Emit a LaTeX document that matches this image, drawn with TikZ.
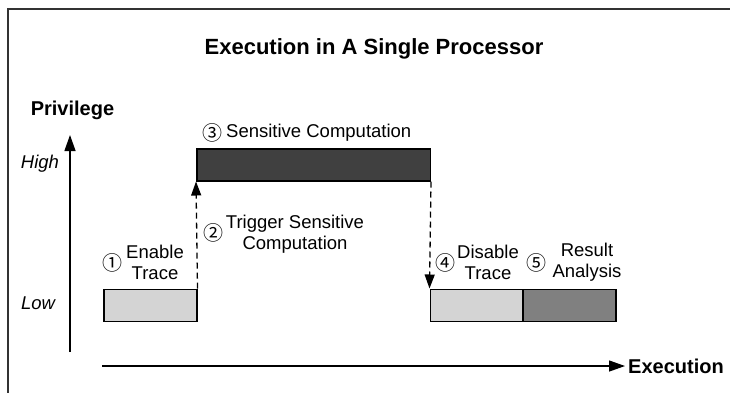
\documentclass[tikz,border=0pt]{standalone}
\usepackage{fontspec}
\setmainfont{Liberation Sans}
\newfontfamily\circfont{Noto Sans CJK SC}
\usetikzlibrary{arrows.meta}

\definecolor{lightbar}{gray}{0.83}
\definecolor{darkbar}{gray}{0.25}
\definecolor{midbar}{gray}{0.5}

\begin{document}
\begin{tikzpicture}[x=1pt,y=-1pt,
  lbl/.style={font=\fontsize{18.5}{21}\selectfont, align=center, inner sep=0pt},
  axislbl/.style={font=\bfseries\fontsize{20}{24}\selectfont, inner sep=0pt},
  levellbl/.style={font=\itshape\fontsize{18.5}{21}\selectfont, inner sep=0pt},
  num/.style={font=\circfont\fontsize{20}{20}\selectfont, inner sep=0pt},
  bar/.style={draw=black, line width=1.5pt, minimum height=32pt, inner sep=0pt, anchor=north west},
  axis/.style={line width=1.3pt, -{Triangle[length=16pt,width=11pt]}},
  jump/.style={line width=1.3pt, dash pattern=on 6pt off 4pt, -{Triangle[length=14pt,width=10pt]}}
]
\useasboundingbox (0,0) rectangle (730,392);
\clip (0,0) rectangle (730,392);

% outer frame
\draw[line width=1.8pt, draw=black!80] (8,9) rectangle (760,420);

% title
\node[font=\bfseries\fontsize{22}{26}\selectfont, inner sep=0pt] (title) at (374,49) {Execution in A Single Processor};

% axes
\coordinate (ybot) at (70,352);
\coordinate (ytop) at (70,135);
\coordinate (xleft) at (102,366);
\coordinate (xright) at (625,366);
\draw[axis] (ybot) -- (ytop);
\draw[axis] (xleft) -- (xright);
\node[axislbl] (priv) at (72.5,110) {Privilege};
\node[axislbl] (exec) at (676,366) {Execution};
\node[levellbl] (high) at (40,164) {High};
\node[levellbl] (low) at (38,303) {Low};

% execution phases
\node[bar, fill=lightbar, minimum width=93pt] (enable) at (103,288.5) {};
\node[bar, fill=darkbar, minimum width=233.5pt] (compute) at (196,148) {};
\node[bar, fill=lightbar, minimum width=92.5pt] (disable) at (429.5,288.5) {};
\node[bar, fill=midbar, minimum width=93pt] (result) at (522,288.5) {};

% privilege transitions
\draw[jump] (enable.north east) -- (compute.south west);
\draw[jump] (compute.south east) -- (disable.north west);

% step labels
\node[num] (n1) at (112,263) {①};
\node[lbl] (l1) at (155,262.5) {Enable\\Trace};
\node[num] (n2) at (213,233) {②};
\node[lbl] (l2) at (295,234) {Trigger Sensitive\\Computation};
\node[num] (n3) at (212,133) {③};
\node[lbl, anchor=west] (l3) at (226,133) {Sensitive Computation};
\node[num] (n4) at (445,263) {④};
\node[lbl] (l4) at (488,262.5) {Disable\\Trace};
\node[num] (n5) at (536,263) {⑤};
\node[lbl] (l5) at (587,262.5) {Result\\Analysis};
\end{tikzpicture}
\end{document}
